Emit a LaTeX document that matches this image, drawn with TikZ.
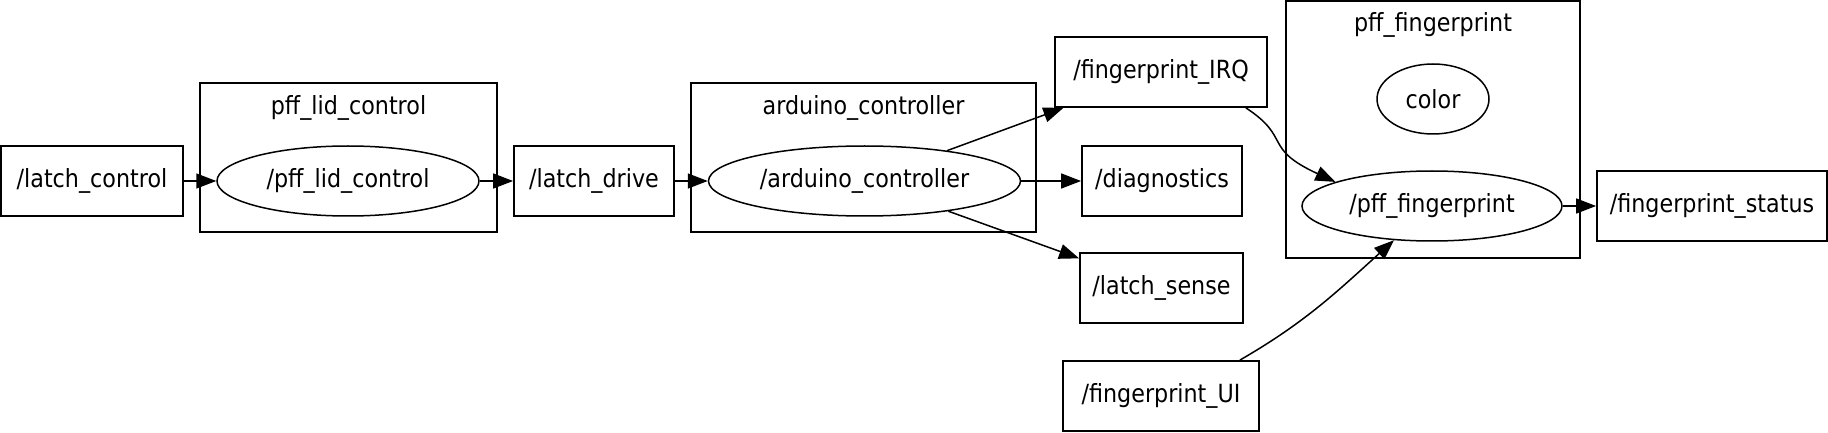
\documentclass[tikz,border=0pt]{standalone}
\usepackage{fontspec}
\setmainfont{DejaVu Sans}[FakeStretch=0.89]
\usetikzlibrary{arrows.meta,positioning,shapes.geometric}

\begin{document}
\begin{tikzpicture}[
  x=0.5pt, y=-0.5pt,
  font=\fontsize{12.5pt}{15pt}\selectfont,
  topic/.style={rectangle, draw, line width=0.9pt, minimum height=35pt, inner sep=0pt},
  rosnode/.style={ellipse, draw, line width=0.75pt, minimum height=35pt, inner sep=0pt},
  group/.style={rectangle, draw, line width=0.9pt, inner sep=0pt},
  arrow/.style={-{Triangle[length=10pt, width=7.5pt]}, line width=0.75pt}
]
\useasboundingbox (0,0) rectangle (1828,433);
% groups
\node[group, minimum width=148.5pt, minimum height=74.5pt] (lidgrp) at (348.5,157.5) {};
\node (lidtitle) at (348.5,108) {pff\_lid\_control};
\node[group, minimum width=172.5pt, minimum height=74.5pt] (ardgrp) at (863.5,157.5) {};
\node (ardtitle) at (863.5,108) {arduino\_controller};
\node[group, minimum width=147pt, minimum height=128.5pt] (fpgrp) at (1433,129.5) {};
\node (fptitle) at (1433,25) {pff\_fingerprint};
% nodes and topics
\node[topic, minimum width=91pt] (lctl) at (92,181) {/latch\_control};
\node[rosnode, minimum width=131pt] (lidnode) at (348,181) {/pff\_lid\_control};
\node[topic, minimum width=80pt] (ldrive) at (594,181) {/latch\_drive};
\node[rosnode, minimum width=156pt] (ardnode) at (864.5,181) {/arduino\_controller};
\node[topic, minimum width=106pt] (irq) at (1161,72) {/fingerprint\_IRQ};
\node[topic, minimum width=80pt] (diag) at (1162,181) {/diagnostics};
\node[topic, minimum width=81.5pt] (lsense) at (1161.5,288) {/latch\_sense};
\node[topic, minimum width=98pt] (fui) at (1161,396) {/fingerprint\_UI};
\node[rosnode, minimum width=56pt] (color) at (1433,99) {color};
\node[rosnode, minimum width=130pt] (fpnode) at (1432,206) {/pff\_fingerprint};
\node[topic, minimum width=115pt] (fstatus) at (1712,206) {/fingerprint\_status};
% edges
\draw[arrow] (lctl) -- (lidnode);
\draw[arrow] (lidnode) -- (ldrive);
\draw[arrow] (ldrive) -- (ardnode);
\draw[arrow] (ardnode) -- (irq);
\draw[arrow] (ardnode) -- (diag);
\draw[arrow] (ardnode) -- (lsense);
\draw[arrow] ([xshift=-11pt]irq.south east) .. controls (1292,138) and (1262,148) .. (fpnode.166);
\draw[arrow] ([xshift=-10pt]fui.north east) to[out=30, in=-138] (fpnode.222);
\draw[arrow] (fpnode) -- (fstatus);
\end{tikzpicture}
\end{document}
